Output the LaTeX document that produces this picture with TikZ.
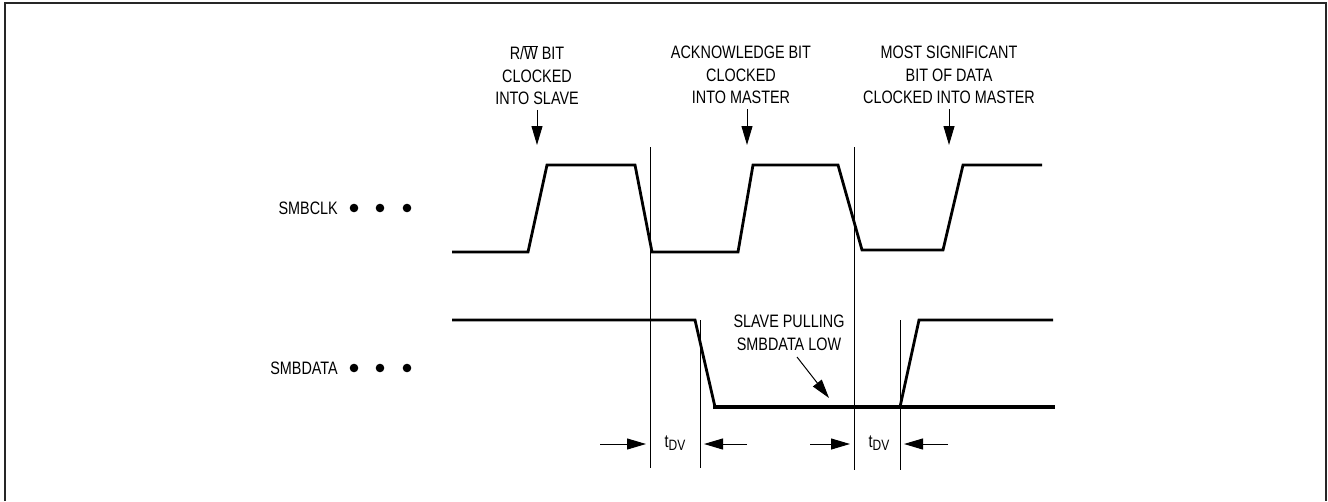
\documentclass[tikz,border=0pt]{standalone}
\usepackage{fontspec}
\setmainfont{Liberation Sans}[FakeStretch=0.8]
\usetikzlibrary{arrows.meta}
\newcommand{\tdv}{t\raisebox{-3.5pt}{\fontsize{15}{15}\selectfont DV}}
\begin{document}
\begin{tikzpicture}[x=1pt, y=-1pt, >={Triangle[length=19pt,width=11pt]},
    wave/.style={line width=2.8pt, line join=miter},
    bus/.style={line width=4.8pt},
    mark line/.style={line width=1pt},
    lbl/.style={font=\fontsize{18}{22.5}\selectfont, align=center, inner sep=2pt}]
    \useasboundingbox (0, 0) rectangle (1328, 501);
    \draw[line width=2pt, black!85] (5, 501) -- (5, 3) -- (1326, 3) -- (1326, 501);

    % signal names
    \node[lbl, anchor=east] (clkname) at (340, 208) {SMBCLK};
    \node[lbl, anchor=east] (dataname) at (340, 368) {SMBDATA};
    \foreach \x in {354, 380, 407} {
      \fill (\x, 208) circle (4.3pt);
      \fill (\x, 368) circle (4.3pt);
    }

    % clock
    \draw[wave] (452, 252) -- (528, 252) -- (547, 165) -- (635, 165) -- (652, 252)
      -- (738, 252) -- (753, 165) -- (838, 165) -- (862, 250) -- (943, 250)
      -- (963, 165) -- (1042, 165);

    % data
    \draw[wave] (452, 320) -- (695, 320) -- (715, 407);
    \draw[bus] (713, 407) -- (1055, 407);
    \draw[wave] (900, 407) -- (919, 320) -- (1053, 320);

    % timing marks
    \draw[mark line] (650, 147) -- (650, 468);
    \draw[mark line] (854, 147) -- (854, 470);
    \draw[mark line] (700, 320) -- (700, 468);
    \draw[mark line] (900, 320) -- (900, 470);

    \coordinate (dva) at (646, 444);
    \coordinate (dvb) at (704, 444);
    \coordinate (dvc) at (850, 444);
    \coordinate (dvd) at (904, 444);
    \draw[mark line, ->] (600, 444) -- (dva);
    \draw[mark line, ->] (747, 444) -- (dvb);
    \draw[mark line, ->] (810, 444) -- (dvc);
    \draw[mark line, ->] (948, 444) -- (dvd);
    \node[lbl] (tdva) at (675, 443) {\tdv};
    \node[lbl] (tdvb) at (879, 443) {\tdv};

    % edge labels
    \node[lbl] (rw) at (537, 75) {R/$\overline{\hbox{W}}$ BIT\\CLOCKED\\INTO SLAVE};
    \node[lbl] (ack) at (741, 75) {ACKNOWLEDGE BIT\\CLOCKED\\INTO MASTER};
    \node[lbl] (msb) at (949, 75) {MOST SIGNIFICANT\\BIT OF DATA\\CLOCKED INTO MASTER};
    \coordinate (rwedge) at (537, 145);
    \coordinate (ackedge) at (747, 145);
    \coordinate (msbedge) at (949, 145);
    \draw[mark line, ->] (rw.south -| rwedge) ++(0, 3) -- (rwedge);
    \draw[mark line, ->] (ack.south -| ackedge) ++(0, 3) -- (ackedge);
    \draw[mark line, ->] (msb.south -| msbedge) ++(0, 3) -- (msbedge);

    \node[lbl] (pull) at (789, 333) {SLAVE PULLING\\SMBDATA LOW};
    \coordinate (pulltip) at (829, 398);
    \draw[mark line, ->] (797, 357) -- (pulltip);
  \end{tikzpicture}
\end{document}
